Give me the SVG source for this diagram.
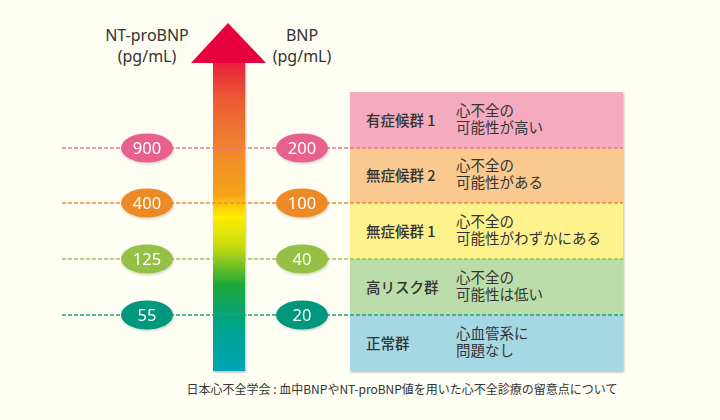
<svg xmlns="http://www.w3.org/2000/svg" width="720" height="420" viewBox="0 0 720 420">
<defs>
<linearGradient id="shaft" x1="0" y1="0" x2="0" y2="1" gradientUnits="objectBoundingBox">
<stop offset="0" stop-color="#E8203A"/>
<stop offset="0.12" stop-color="#EC5A34"/>
<stop offset="0.3" stop-color="#F08A2C"/>
<stop offset="0.43" stop-color="#F5A418"/>
<stop offset="0.5" stop-color="#FFEE00"/>
<stop offset="0.6" stop-color="#C5DA10"/>
<stop offset="0.72" stop-color="#1FA73A"/>
<stop offset="0.85" stop-color="#00A488"/>
<stop offset="1" stop-color="#00A4B8"/>
</linearGradient>
<filter id="sh" x="-10%" y="-10%" width="120%" height="130%">
<feDropShadow dx="1" dy="1.5" stdDeviation="1.2" flood-color="#000" flood-opacity="0.25"/>
</filter>
<filter id="sh2" x="-20%" y="-20%" width="140%" height="150%">
<feDropShadow dx="0.8" dy="1.2" stdDeviation="0.8" flood-color="#000" flood-opacity="0.2"/>
</filter>
</defs>
<style>
.t{font-family:"Noto Sans CJK JP","Noto Sans",sans-serif;fill:#333;}
.hd{font-family:"Noto Sans","Noto Sans CJK JP",sans-serif;font-size:16px;text-anchor:middle;}
.lab{font-size:14.5px;font-weight:500;}
.desc{font-size:14.5px;}
.num{font-family:"Noto Sans","Open Sans",sans-serif;font-size:16.5px;fill:#fff;text-anchor:middle;}
.dl{stroke-width:1.6;stroke-dasharray:4 2;fill:none;}
</style>
<rect width="720" height="420" fill="#FEFEF3"/>

<g id="boxes" filter="url(#sh)">
<rect x="350" y="92" width="273" height="279" fill="#A6D8E4"/>
</g>
<g id="box1"><rect x="350" y="92" width="273" height="56" fill="#F4ABBF"/>
<text class="t lab" x="366" y="126">有症候群 1</text>
<text class="t desc" x="456" y="116">心不全の<tspan x="456" dy="17">可能性が高い</tspan></text></g>
<g id="box2"><rect x="350" y="148" width="273" height="55" fill="#F9C98F"/>
<text class="t lab" x="366" y="181">無症候群 2</text>
<text class="t desc" x="456" y="171">心不全の<tspan x="456" dy="17">可能性がある</tspan></text></g>
<g id="box3"><rect x="350" y="203" width="273" height="56" fill="#FEF28D"/>
<text class="t lab" x="366" y="237">無症候群 1</text>
<text class="t desc" x="456" y="227">心不全の<tspan x="456" dy="17">可能性がわずかにある</tspan></text></g>
<g id="box4"><rect x="350" y="259" width="273" height="56" fill="#BBDDA9"/>
<text class="t lab" x="366" y="293">高リスク群</text>
<text class="t desc" x="456" y="283">心不全の<tspan x="456" dy="17">可能性は低い</tspan></text></g>
<g id="box5"><rect x="350" y="315" width="273" height="56" fill="#A6D8E4"/>
<text class="t lab" x="366" y="349">正常群</text>
<text class="t desc" x="456" y="339">心血管系に<tspan x="456" dy="17">問題なし</tspan></text></g>

<g id="arrow">
<rect x="213" y="62" width="32" height="309" fill="url(#shaft)" filter="url(#sh)"/>
<polygon points="228,23 266,63 191,63" fill="#E6003C"/>
</g>

<g id="connectors">
<line class="dl" x1="62" y1="148" x2="623" y2="148" stroke="#E6769A"/>
<line class="dl" x1="62" y1="203" x2="623" y2="203" stroke="#EE8C3C"/>
<line class="dl" x1="62" y1="259" x2="623" y2="259" stroke="#98C25A"/>
<line class="dl" x1="62" y1="315" x2="623" y2="315" stroke="#17A08A"/>
</g>

<g id="hdr-nt"><text class="t hd" x="147" y="41">NT-proBNP</text><text class="t hd" x="147" y="62">(pg/mL)</text></g>
<g id="hdr-bnp"><text class="t hd" x="302" y="41">BNP</text><text class="t hd" x="302" y="62">(pg/mL)</text></g>

<g filter="url(#sh2)">
<g id="n900"><ellipse cx="147" cy="148" rx="26" ry="14.5" fill="#E8608E"/><text class="num" x="147" y="154">900</text></g>
<g id="n200"><ellipse cx="302" cy="148" rx="26" ry="14.5" fill="#E8608E"/><text class="num" x="302" y="154">200</text></g>
<g id="n400"><ellipse cx="147" cy="203" rx="26" ry="14.5" fill="#EE8A27"/><text class="num" x="147" y="209">400</text></g>
<g id="n100"><ellipse cx="302" cy="203" rx="26" ry="14.5" fill="#EE8A27"/><text class="num" x="302" y="209">100</text></g>
<g id="n125"><ellipse cx="147" cy="259" rx="26" ry="14.5" fill="#94C044"/><text class="num" x="147" y="265">125</text></g>
<g id="n40"><ellipse cx="302" cy="259" rx="26" ry="14.5" fill="#94C044"/><text class="num" x="302" y="265">40</text></g>
<g id="n55"><ellipse cx="147" cy="315" rx="26" ry="14.5" fill="#00977B"/><text class="num" x="147" y="321">55</text></g>
<g id="n20"><ellipse cx="302" cy="315" rx="26" ry="14.5" fill="#00977B"/><text class="num" x="302" y="321">20</text></g>
</g>

<text class="t" x="402" y="394" font-size="12" text-anchor="middle" fill="#444">日本心不全学会 : 血中BNPやNT-proBNP値を用いた心不全診療の留意点について</text>
</svg>
